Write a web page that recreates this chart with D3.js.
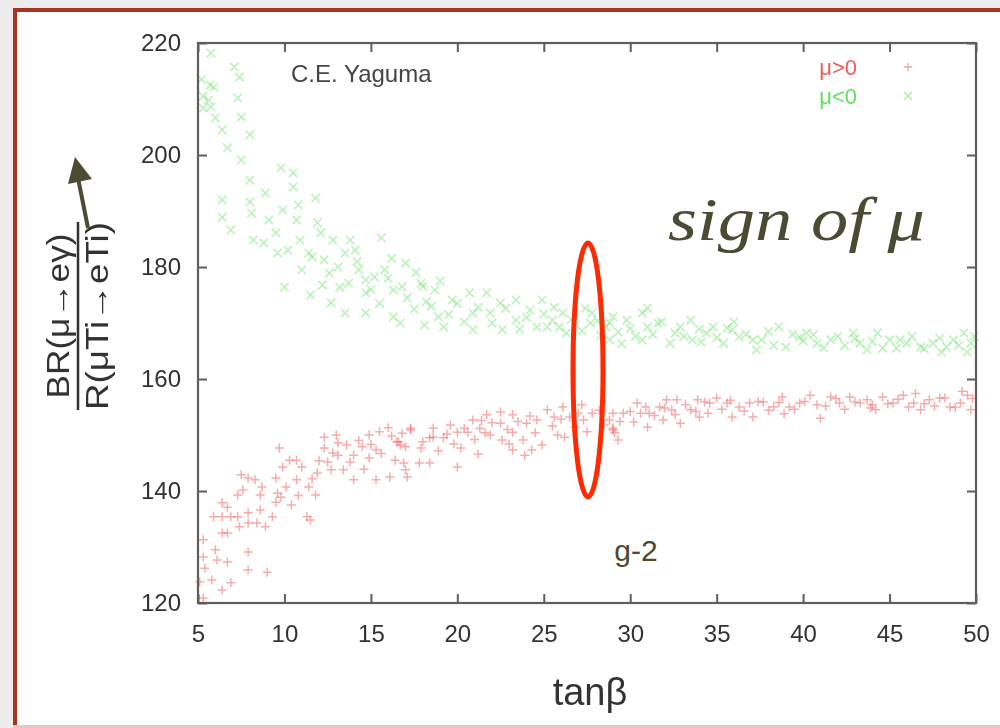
<!DOCTYPE html>
<html><head><meta charset="utf-8">
<script src="https://cdn.jsdelivr.net/npm/d3@7"></script>
<style>html,body{margin:0;padding:0;background:#ececec;}svg{display:block;}</style>
</head><body>
<svg id="c" width="1000" height="728"></svg>
<script>
// ---- data (tanβ, ratio) ----
const xTicks = [5,10,15,20,25,30,35,40,45,50];
const yTicks = [120,140,160,180,200,220];
const legendLabels = ["μ>0","μ<0"];

const muPos = [
[5.3,131.3],[5.3,128.2],[5.4,126.2],[5.1,123.8],[5.3,120.9],[5.8,124.1],[6.0,129.5],[6.1,127.7],[6.4,122.3],[6.7,127.3],
[6.9,123.6],[5.9,135.4],[6.4,135.4],[6.4,137.9],[6.7,137.1],[6.4,132.5],[6.7,132.5],[6.9,135.4],[7.3,135.4],[7.4,133.6],
[7.3,139.3],[7.6,140.2],[7.5,142.9],[7.9,142.3],[8.3,142.0],[7.9,136.1],[7.9,134.3],[7.9,129.1],[7.9,125.9],[8.4,134.3],
[8.6,136.6],[8.7,140.7],[8.6,139.3],[8.9,133.6],[9.0,125.5],[9.3,135.4],[9.5,138.0],[9.5,142.3],[9.6,139.6],[9.7,147.7],
[9.9,144.3],[9.8,138.9],[10.1,140.7],[10.3,145.5],[10.4,137.5],[10.7,145.5],[10.7,142.0],[11.0,144.3],[11.4,140.7],[11.3,135.4],
[11.5,134.8],[11.8,139.3],[11.9,143.2],[12.3,147.7],[12.3,149.6],[12.5,145.2],[12.7,143.8],[13.0,150.0],[13.1,148.6],[13.1,146.4],
[13.4,143.8],[14.0,146.4],[14.0,142.0],[14.5,147.9],[14.9,150.0],[14.9,145.9],[15.3,142.0],[15.3,147.3],[16.0,151.3],[16.1,142.5],
[16.5,148.8],[16.7,148.2],[16.9,145.0],[17.3,150.9],[17.1,142.5],[17.8,145.0],[18.0,148.8],[18.4,145.0],[18.6,149.6],[16.6,148.8],
[17.3,151.2],[17.0,147.9],[16.4,145.5],[17.0,143.8],[17.9,147.7],[18.4,149.5],[18.6,151.2],[19.2,149.5],[19.6,151.8],[20.0,150.5],
[20.2,147.7],[20.0,144.3],[20.6,150.5],[20.9,152.7],[21.3,151.2],[21.7,153.6],[21.6,150.4],[21.9,150.0],[22.5,154.1],[22.5,152.1],
[22.6,149.1],[23.2,153.6],[23.2,150.5],[23.2,147.3],[23.8,149.1],[23.9,146.4],[24.0,152.1],[24.3,147.3],[24.6,152.7],[24.9,148.2],
[25.2,154.5],[25.6,153.2],[25.8,150.0],[26.1,155.0],[26.2,149.6],[26.5,153.2],[27.2,155.4],[27.3,152.7],[27.8,153.9],[28.8,152.7],
[29.0,150.9],[29.0,153.9],[29.0,151.2],[29.1,150.4],[29.6,153.9],[30.4,155.7],[30.6,153.9],[31.0,151.4],[31.1,153.9],[31.7,155.0],
[31.9,152.7],[32.1,156.3],[32.4,154.5],[32.7,156.3],[32.9,152.1],[33.5,154.5],[33.9,156.3],[34.0,153.2],[34.6,155.7],[35.0,156.6],
[35.6,155.7],[35.9,153.2],[36.3,155.0],[36.9,155.7],[37.1,153.2],[37.7,155.9],[38.3,155.0],[38.8,156.8],[39.2,155.0],[39.8,155.7],
[40.4,157.1],[40.8,155.4],[41.0,153.0],[41.6,156.8],[42.1,155.7],[42.7,156.8],[43.3,155.7],[43.7,156.3],[44.2,154.5],[44.6,156.8],
[45.2,155.7],[45.8,157.1],[46.4,155.7],[46.8,154.5],[47.3,156.3],[47.9,156.6],[48.5,155.0],[49.1,155.7],[49.5,157.1],[49.7,154.5],
[30.0,154.2],[30.9,155.0],[31.4,153.5],[32.0,154.8],[32.6,153.6],[33.2,155.4],[33.8,154.2],[34.3,155.9],[35.3,154.6],[35.8,156.2],
[36.6,154.3],[37.4,156.0],[38.0,154.4],[38.6,155.8],[39.5,154.6],[40.1,156.0],[41.3,155.2],[41.9,156.5],[42.4,154.6],[43.0,155.9],
[44.0,155.4],[44.9,155.6],[45.5,156.4],[46.1,155.0],[47.0,155.6],[47.6,155.2],[48.2,156.6],[48.8,154.9],[49.8,156.5],[30.2,152.3],
[34.5,153.9],[38.9,153.8],[43.9,154.8],[46.5,157.4],[49.2,157.8],[25.5,151.6],[26.8,151.4],[27.5,150.6],[28.2,154.4],[28.5,151.8],
[29.4,152.4],[26.0,152.8],[24.5,150.4],[27.0,153.9],[29.3,149.1],[18.9,147.2],[19.4,150.2],[19.8,148.4],[20.4,151.2],[21.0,149.2],
[21.4,152.6],[22.0,152.2],[22.9,151.0],[23.5,152.4],[24.2,153.4],[23.0,148.4],[21.2,146.6],[12.0,145.4],[13.6,148.2],[14.3,149.0],
[15.0,148.3],[15.6,146.7],[16.2,149.8],[14.6,143.9],[13.8,145.2],[12.8,146.8],[11.6,142.2],[10.8,139.2],[15.5,150.6],[16.8,150.3]
];

const muNeg = [
[5.75,218.2],[5.7,212.5],[5.9,212.1],[5.6,209.8],[5.75,208.6],[5.3,208.4],[6.0,206.6],[6.4,204.5],[6.7,201.3],[7.1,215.7],
[7.4,213.9],[7.3,210.2],[7.5,206.8],[8.0,203.6],[7.5,199.1],[8.0,195.5],[6.4,192.0],[6.4,188.9],[6.9,186.6],[8.0,191.6],
[8.1,189.6],[8.2,184.8],[8.8,184.3],[8.9,193.2],[9.1,188.4],[9.5,186.1],[9.6,182.5],[9.9,190.2],[9.8,197.7],[10.5,196.8],
[10.5,194.3],[10.0,176.4],[10.8,191.1],[10.7,188.4],[10.9,184.8],[11.4,182.5],[11.8,192.3],[11.9,187.9],[11.6,181.8],[12.1,186.1],
[12.3,181.3],[12.6,178.9],[12.8,184.8],[11.5,175.0],[13.1,180.0],[13.5,182.5],[13.8,184.8],[14.1,183.0],[13.7,177.1],[12.7,173.6],
[14.3,179.5],[14.7,177.7],[14.7,175.4],[15.2,178.2],[15.6,185.2],[15.8,179.5],[13.5,171.8],[14.7,171.8],[16.3,171.1],[5.2,213.5],
[5.3,210.5],[17.0,180.7],[17.1,174.5],[16.3,175.9],[16.7,170.0],[17.9,177.1],[18.2,173.8],[18.7,175.9],[18.9,171.1],[19.2,169.3],
[18.1,169.6],[19.7,174.1],[20.7,175.4],[20.9,171.8],[20.9,168.8],[21.7,175.4],[21.9,171.8],[22.5,173.6],[22.6,168.8],[23.4,174.1],
[23.4,170.5],[24.2,172.3],[24.6,169.3],[24.9,174.1],[25.2,169.3],[25.5,170.5],[25.9,169.3],[26.1,171.8],[26.3,168.2],[27.7,170.0],
[27.8,171.8],[28.6,169.3],[29.0,171.1],[28.8,170.0],[28.8,167.0],[29.8,170.5],[30.7,171.8],[31.0,169.3],[30.7,167.0],[31.8,170.2],
[32.3,166.4],[32.9,169.3],[33.5,170.5],[33.6,167.0],[34.4,168.2],[34.8,169.3],[35.4,166.4],[35.9,168.8],[36.3,167.5],[37.1,167.0],
[37.3,165.2],[38.6,169.3],[39.0,165.7],[39.8,167.5],[40.2,168.2],[40.8,166.4],[41.6,167.0],[42.9,168.2],[43.3,166.4],[43.7,165.2],
[44.3,168.2],[45.0,167.0],[45.4,165.5],[46.0,166.4],[46.8,165.7],[47.5,166.4],[48.3,165.7],[48.7,167.0],[49.3,168.2],[49.5,164.8],
[49.7,166.4],[15.0,176.0],[15.5,173.5],[16.0,178.0],[16.8,176.5],[17.5,172.5],[18.0,176.5],[18.5,173.0],[19.5,171.5],[20.0,173.5],
[20.4,170.2],[21.2,172.8],[22.0,170.0],[22.8,172.6],[23.6,168.9],[24.0,171.0],[25.0,171.6],[25.6,172.8],[26.6,170.6],[27.2,168.6],
[27.4,172.6],[28.1,170.4],[28.3,167.8],[19.0,177.5],[17.6,179.0],[16.2,181.5],[14.2,181.0],[13.2,176.4],[12.2,176.8],[11.0,179.5],
[10.2,183.0],[29.3,168.4],[30.0,169.0],[30.3,167.6],[31.3,168.0],[31.6,170.0],[32.6,168.2],[33.1,167.6],[34.0,168.9],[34.1,166.6],
[35.0,167.4],[35.6,169.1],[36.7,168.0],[37.6,167.0],[38.0,168.5],[38.3,166.0],[39.4,168.0],[40.0,166.8],[40.6,167.9],[41.2,165.6],
[42.0,167.6],[42.4,166.0],[43.0,167.2],[44.0,166.7],[44.6,165.5],[45.6,167.0],[46.3,167.6],[47.0,165.4],[47.9,167.3],[48.0,164.8],
[49.0,166.0],[49.9,167.6],[36.0,170.2],[31.0,172.6],[29.5,166.3]
];

// ---- layout ----
const svg = d3.select("#c");
const L = 198, R = 976, T = 43, B = 603;
const x = d3.scaleLinear().domain([5,50]).range([L,R]);
const y = d3.scaleLinear().domain([120,220]).range([B,T]);
const font = "'Liberation Sans', Arial, sans-serif";

const defs = svg.append("defs");
defs.append("filter").attr("id","soft").attr("x","-5%").attr("y","-5%").attr("width","110%").attr("height","110%")
  .append("feGaussianBlur").attr("stdDeviation",0.7);
defs.append("filter").attr("id","soft2")
  .append("feGaussianBlur").attr("stdDeviation",0.5);

// background panel with border
svg.append("rect").attr("x",0).attr("y",0).attr("width",1000).attr("height",728).attr("fill","#ececec");
svg.append("rect").attr("x",15).attr("y",10).attr("width",990).attr("height",716).attr("fill","#fff");
svg.append("line").attr("x1",15).attr("x2",1000).attr("y1",10).attr("y2",10).attr("stroke","#a8321f").attr("stroke-width",4);
svg.append("line").attr("x1",15).attr("x2",15).attr("y1",8).attr("y2",728).attr("stroke","#a8321f").attr("stroke-width",4);
svg.append("line").attr("x1",13).attr("x2",1000).attr("y1",726.5).attr("y2",726.5).attr("stroke","#e6c6bf").attr("stroke-width",3);

// points
const red = "#f05a5a", green = "#5fe35f";
const gP = svg.append("g").attr("filter","url(#soft)");
gP.selectAll("path.p").data(muPos).join("path")
  .attr("d", d => { const cx=x(d[0]), cy=y(d[1]), s=4.5; return `M${cx-s},${cy}H${cx+s}M${cx},${cy-s}V${cy+s}`; })
  .attr("stroke",red).attr("stroke-width",1.5).attr("stroke-opacity",0.5).attr("fill","none");
gP.selectAll("path.n").data(muNeg).join("path")
  .attr("d", d => { const cx=x(d[0]), cy=y(d[1]), s=4.2; return `M${cx-s},${cy-s}L${cx+s},${cy+s}M${cx-s},${cy+s}L${cx+s},${cy-s}`; })
  .attr("stroke",green).attr("stroke-width",1.5).attr("stroke-opacity",0.45).attr("fill","none");

// frame and ticks (gnuplot style, inward, mirrored)
const axCol = "#5e5e5e";
svg.append("rect").attr("x",L).attr("y",T).attr("width",R-L).attr("height",B-T)
  .attr("fill","none").attr("stroke",axCol).attr("stroke-width",2.2);
const tl = 9;
const xa = svg.append("g").attr("transform",`translate(0,${B})`)
  .call(d3.axisBottom(x).tickValues(xTicks).tickSizeInner(-tl).tickSizeOuter(0).tickPadding(22));
const xt = svg.append("g").attr("transform",`translate(0,${T})`)
  .call(d3.axisTop(x).tickValues(xTicks).tickSizeInner(-tl).tickSizeOuter(0).tickFormat(""));
const ya = svg.append("g").attr("transform",`translate(${L},0)`)
  .call(d3.axisLeft(y).tickValues(yTicks).tickSizeInner(-tl).tickSizeOuter(0).tickPadding(17));
const yr = svg.append("g").attr("transform",`translate(${R},0)`)
  .call(d3.axisRight(y).tickValues(yTicks).tickSizeInner(-tl).tickSizeOuter(0).tickFormat(""));
[xa,xt,ya,yr].forEach(g => {
  g.select(".domain").remove();
  g.selectAll(".tick line").attr("stroke",axCol).attr("stroke-width",2);
  g.selectAll(".tick text").attr("fill","#333").attr("font-family",font).attr("font-size",24).attr("filter","url(#soft2)");
});

// axis titles
svg.append("text").attr("x",(L+R)/2+3).attr("y",705).attr("text-anchor","middle")
  .attr("font-family",font).attr("font-size",38).attr("fill","#333").attr("filter","url(#soft2)").text("tanβ");
const yl = svg.append("g").attr("transform","translate(0,316) rotate(-90)").attr("filter","url(#soft2)");
yl.append("text").attr("x",0).attr("y",69).attr("text-anchor","middle").attr("font-family",font)
  .attr("font-size",31).attr("fill","#333").attr("textLength",165).attr("lengthAdjust","spacingAndGlyphs").text("BR(μ→eγ)");
yl.append("line").attr("x1",-94).attr("x2",94).attr("y1",78).attr("y2",78).attr("stroke","#333").attr("stroke-width",2.5);
yl.append("text").attr("x",0).attr("y",108).attr("text-anchor","middle").attr("font-family",font)
  .attr("font-size",31).attr("fill","#333").attr("textLength",188).attr("lengthAdjust","spacingAndGlyphs").text("R(μTi→eTi)");

// author label
svg.append("text").attr("x",291).attr("y",82).attr("font-family",font).attr("font-size",24)
  .attr("fill","#444").attr("filter","url(#soft2)").text("C.E. Yaguma");

// legend
const lg = [[red,"+"],[green,"x"]];
legendLabels.forEach((t,i) => {
  const ly = 75 + i*29;
  svg.append("text").attr("x",857).attr("y",ly).attr("text-anchor","end").attr("font-family",font)
    .attr("font-size",22).attr("fill",lg[i][0]).attr("filter","url(#soft2)").text(t);
  const cx = 908, cy = ly-8, s = 4;
  svg.append("path").attr("d", i===0 ? `M${cx-s},${cy}H${cx+s}M${cx},${cy-s}V${cy+s}` : `M${cx-s},${cy-s}L${cx+s},${cy+s}M${cx-s},${cy+s}L${cx+s},${cy-s}`)
    .attr("stroke",lg[i][0]).attr("stroke-width",1.3).attr("stroke-opacity",0.55).attr("fill","none");
});

// annotations
svg.append("text").attr("x",668).attr("y",240).attr("font-family","'Liberation Serif', 'DejaVu Serif', serif")
  .attr("font-style","italic").attr("font-size",62).attr("fill","#4b4a33")
  .attr("textLength",257).attr("lengthAdjust","spacingAndGlyphs").text("sign of μ");
svg.append("ellipse").attr("cx",588).attr("cy",370).attr("rx",15).attr("ry",127)
  .attr("fill","none").attr("stroke","#ff2a00").attr("stroke-width",5);
svg.append("text").attr("x",636).attr("y",561).attr("text-anchor","middle").attr("font-family",font)
  .attr("font-size",30).attr("fill","#4b4a33").text("g-2");

// arrow
svg.append("line").attr("x1",88).attr("y1",228).attr("x2",78).attr("y2",178)
  .attr("stroke","#4d4c33").attr("stroke-width",4);
svg.append("path").attr("d","M75,157 L68,184 L92,179 Z").attr("fill","#4d4c33");
</script>
</body></html>
